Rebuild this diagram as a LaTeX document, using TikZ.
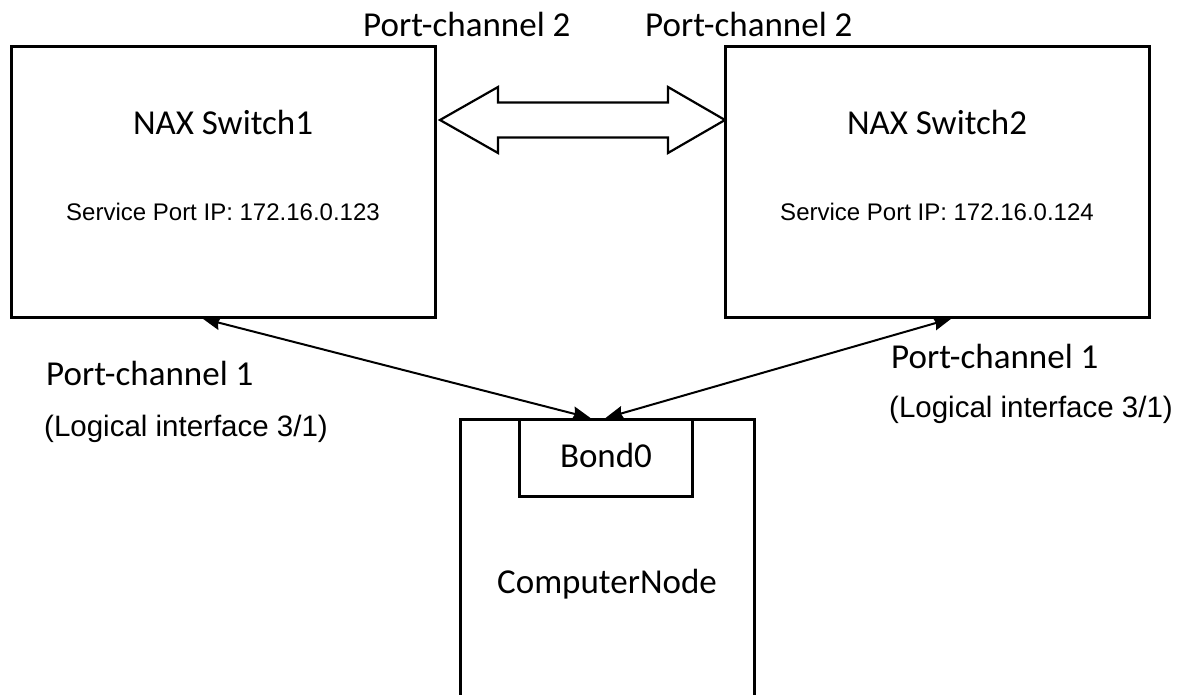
\documentclass[tikz,border=0pt]{standalone}
\usepackage{fontspec}
\setmainfont{Carlito}
\newfontfamily\arialf{Liberation Sans}
\usetikzlibrary{arrows.meta}
\tikzset{
  box/.style={draw=black, line width=3pt, rectangle, inner sep=0pt},
  title/.style={inner sep=0pt, font=\fontsize{35}{40}\selectfont},
  ipaddr/.style={inner sep=0pt, font=\arialf\fontsize{24}{28}\selectfont},
  logical/.style={inner sep=0pt, font=\arialf\fontsize{29.5}{34}\selectfont},
  link/.style={line width=2pt, {Stealth[length=18pt,width=14pt,inset=2pt]}-{Stealth[length=18pt,width=14pt,inset=2pt]}},
  bigarrow/.style={draw=black, line width=2.2pt, fill=white, line join=miter}
}
\begin{document}
\begin{tikzpicture}[x=1pt,y=-1pt]
\useasboundingbox (0,0) rectangle (1186,695);
% switches
\node[box, minimum width=424pt, minimum height=270pt] (sw1) at (223,182) {};
\node[box, minimum width=424pt, minimum height=270pt] (sw2) at (937,182) {};
% computer node (open at bottom, extends past page)
\node[box, minimum width=294pt, minimum height=330pt, anchor=north] (cn) at (607,418) {};
\node[box, minimum width=173pt, minimum height=77pt, anchor=north] (bond) at (605.5,418) {};
% texts
\node[title, anchor=base] (t1) at (223,135) {NAX Switch1};
\node[title, anchor=base] (t2) at (937,135) {NAX Switch2};
\node[ipaddr, anchor=base] (ip1) at (223,221) {Service Port IP: 172.16.0.123};
\node[ipaddr, anchor=base] (ip2) at (937,221) {Service Port IP: 172.16.0.124};
\node[title, anchor=base west] (pc2a) at (363,37) {Port-channel 2};
\node[title, anchor=base west] (pc2b) at (645,37) {Port-channel 2};
\node[title, anchor=base west] (pc1a) at (46,385) {Port-channel 1};
\node[logical, anchor=base west] (li1) at (44,436) {(Logical interface 3/1)};
\node[title, anchor=base west] (pc1b) at (891,368) {Port-channel 1};
\node[logical, anchor=base west] (li2) at (889,417) {(Logical interface 3/1)};
\node[title, anchor=base] (bondt) at (606,467) {Bond0};
\node[title, anchor=base] (cnt) at (607,593) {ComputerNode};
% double block arrow between switches
\draw[bigarrow] (440,120) -- (498,87) -- (498,102.5) -- (668,102.5) -- (668,87)
  -- (725,120) -- (668,153) -- (668,137.5) -- (498,137.5) -- (498,153) -- cycle;
% links
\coordinate (s1b) at ([xshift=193pt]sw1.south west);
\coordinate (s2b) at ([xshift=228pt]sw2.south west);
\coordinate (bl) at ([xshift=73pt]bond.north west);
\coordinate (br) at ([xshift=88pt]bond.north west);
\draw[link] (s1b) -- (bl);
\draw[link] (s2b) -- (br);
\end{tikzpicture}
\end{document}
